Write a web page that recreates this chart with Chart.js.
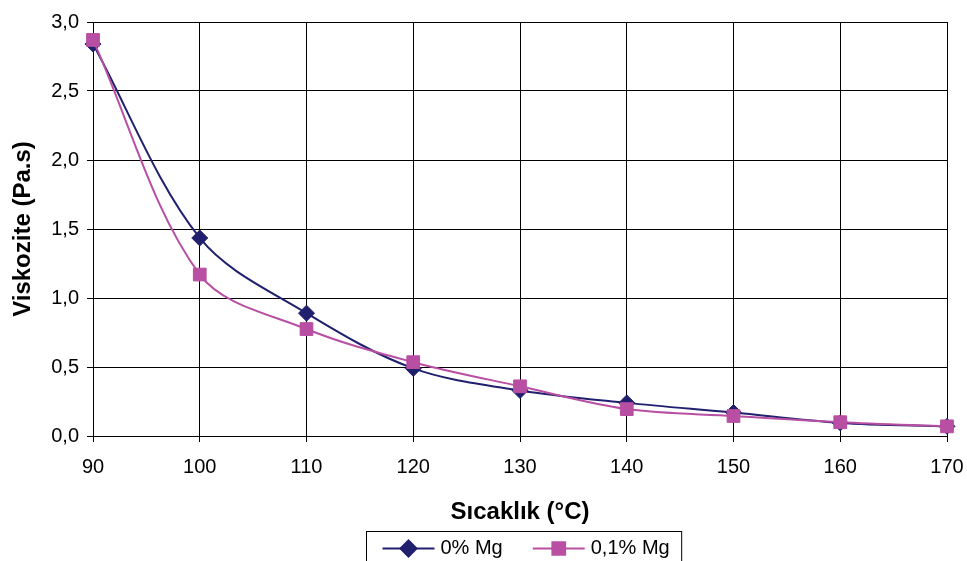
<!DOCTYPE html>
<html>
<head>
<meta charset="utf-8">
<script src="https://cdn.jsdelivr.net/npm/chart.js@4/dist/chart.umd.min.js"></script>
<style>
  html, body { margin: 0; padding: 0; background: #fff; }
  #wrap { width: 967px; height: 561px; }
</style>
</head>
<body>
<div id="wrap"><canvas id="chart" width="967" height="561"></canvas></div>
<script>
// temperatures (°C)
const temps = [90, 100, 110, 120, 130, 140, 150, 160, 170];
// viscosity (Pa.s)
const mg0 = [2.84, 1.435, 0.89, 0.49, 0.33, 0.24, 0.17, 0.095, 0.07];
const mg01 = [2.87, 1.17, 0.775, 0.535, 0.36, 0.195, 0.145, 0.10, 0.07];

const seriesNames = ['0% Mg', '0,1% Mg'];
const navy = '#20206e';
const pink = '#b84fa3';

const toPoints = (vals) => vals.map((v, i) => ({ x: temps[i], y: v }));

// boxed legend drawn under the x title (line + marker samples, like the original)
const boxLegend = {
  id: 'boxLegend',
  afterDraw(chart) {
    const ctx = chart.ctx;
    const area = chart.chartArea;
    const font = '20px Arial, "Liberation Sans", sans-serif';
    ctx.save();
    ctx.font = font;
    const padL = 16, padR = 12, sampleW = 52, gap = 6, entryGap = 30;
    const items = chart.data.datasets.map(ds => ({ ds, tw: ctx.measureText(ds.label).width }));
    let total = padL + padR;
    items.forEach((it, i) => { total += sampleW + gap + it.tw + (i ? entryGap : 0); });
    const left = Math.round((area.left + area.right) / 2 - total / 2 + 4) + 0.5;
    const top = area.bottom + 95 + 0.5;
    const cy = top + 17;

    ctx.strokeStyle = '#000';
    ctx.lineWidth = 1;
    ctx.strokeRect(left, top, total, 40);

    let x = left + padL;
    items.forEach((it, i) => {
      if (i) x += entryGap;
      const ds = it.ds;
      ctx.strokeStyle = ds.borderColor;
      ctx.lineWidth = ds.borderWidth;
      ctx.beginPath();
      ctx.moveTo(x, cy);
      ctx.lineTo(x + sampleW, cy);
      ctx.stroke();
      const opts = {
        pointStyle: ds.pointStyle, radius: ds.pointRadius, rotation: 0,
        borderWidth: 1
      };
      ctx.fillStyle = ds.pointBackgroundColor;
      ctx.strokeStyle = ds.pointBorderColor;
      Chart.helpers.drawPoint(ctx, opts, x + sampleW / 2, cy);
      x += sampleW + gap;
      ctx.fillStyle = '#000';
      ctx.textBaseline = 'middle';
      ctx.textAlign = 'left';
      ctx.fillText(ds.label, x, cy);
      x += it.tw;
    });
    ctx.restore();
  }
};

const tickFont = { family: 'Arial, "Liberation Sans", sans-serif', size: 20 };
const titleFont = { family: 'Arial, "Liberation Sans", sans-serif', size: 24, weight: 'bold' };

new Chart(document.getElementById('chart'), {
  type: 'line',
  data: {
    datasets: [
      {
        label: seriesNames[0],
        data: toPoints(mg0),
        borderColor: navy,
        borderWidth: 2,
        pointStyle: 'rectRot',
        pointRadius: 8,
        pointBackgroundColor: navy,
        pointBorderColor: navy,
        pointBorderWidth: 1,
        tension: 0.33,
        clip: false,
        order: 1
      },
      {
        label: seriesNames[1],
        data: toPoints(mg01),
        borderColor: pink,
        borderWidth: 2,
        pointStyle: 'rect',
        pointRadius: 9,
        pointBackgroundColor: pink,
        pointBorderColor: pink,
        pointBorderWidth: 1,
        tension: 0.33,
        clip: false,
        order: 0
      }
    ]
  },
  options: {
    responsive: false,
    animation: false,
    layout: { padding: { top: 22, right: 20, bottom: 30, left: 0 } },
    plugins: {
      legend: { display: false },
      tooltip: { enabled: false }
    },
    scales: {
      x: {
        type: 'linear',
        min: 90,
        max: 170,
        afterFit(scale) {
          scale.height = 95;
          scale.paddingLeft = 0;
          scale.paddingRight = 0;
        },
        ticks: { stepSize: 10, color: '#000', font: tickFont, padding: 13, maxRotation: 0 },
        grid: { color: '#000', lineWidth: 1, tickLength: 6, drawTicks: true },
        border: { color: '#000', width: 1 },
        title: { display: true, text: 'Sıcaklık (°C)', color: '#000', font: titleFont, padding: { top: 0, bottom: 4 } }
      },
      y: {
        min: 0,
        max: 3,
        afterFit(scale) { scale.width = 93; },
        ticks: {
          stepSize: 0.5, color: '#000', font: tickFont, padding: 8,
          callback: (v) => v.toFixed(1).replace('.', ',')
        },
        grid: { color: '#000', lineWidth: 1, tickLength: 6, drawTicks: true },
        border: { color: '#000', width: 1 },
        title: { display: true, text: 'Viskozite (Pa.s)', color: '#000', font: titleFont, padding: { top: 9, bottom: 0 } }
      }
    }
  },
  plugins: [boxLegend]
});
</script>
</body>
</html>
